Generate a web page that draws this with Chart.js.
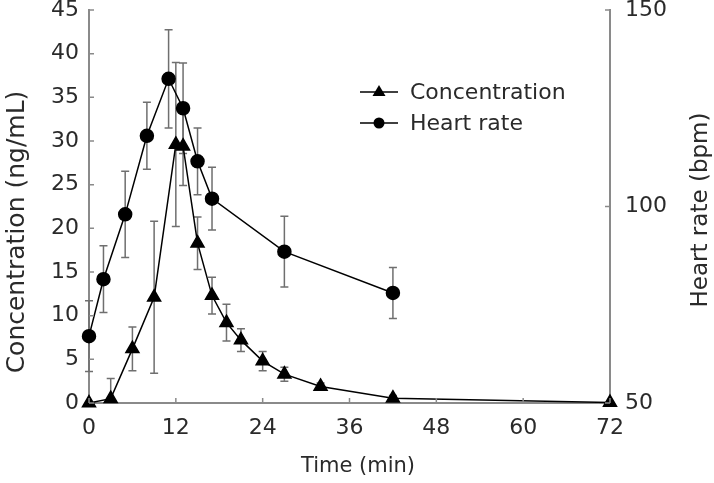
<!DOCTYPE html>
<html>
<head>
<meta charset="utf-8">
<script src="https://cdn.jsdelivr.net/npm/chart.js@4"></script>
<style>
  html, body { margin: 0; padding: 0; background: #fff; }
  canvas { display: block; }
</style>
</head>
<body>
<canvas id="chart" width="714" height="483"></canvas>
<script>
// Concentration data (triangles, left axis)
const concTime = [0, 3, 6, 9, 12, 13, 15, 17, 19, 21, 24, 27, 32, 42, 72];
const concMean = [0, 0.5, 6.2, 12.1, 29.6, 29.4, 18.3, 12.3, 9.2, 7.2, 4.8, 3.3, 1.9, 0.55, 0.05];
const concSD = [0, 2.3, 2.5, 8.7, 9.4, 4.5, 3.0, 2.1, 2.1, 1.3, 1.1, 0.8, 0.4, 0.3, 0];

// Heart rate data (circles, right axis)
const hrTime = [0, 2, 5, 8, 11, 13, 15, 17, 27, 42];
const hrMean = [67, 81.5, 98, 118, 132.5, 125, 111.5, 102, 88.5, 78];
const hrSD = [9, 8.5, 11, 8.5, 12.5, 11.5, 8.5, 8, 9, 6.5];

// Axis labels
const xTitle = 'Time (min)';
const yTitle = 'Concentration (ng/mL)';
const y1Title = 'Heart rate (bpm)';
const legendLabels = ['Concentration', 'Heart rate'];

const FONT = '"DejaVu Sans", sans-serif';
const AXIS_COLOR = '#8a8a8a';
const TEXT_COLOR = '#2a2a2a';

function toPoints(xs, ys) {
    return xs.map((x, i) => ({ x: x, y: ys[i] }));
}

// Fix the scale box so the plot area sits where the reference has it
function fixBox(size, horizontal) {
    return s => {
        if (horizontal) s.height = size; else s.width = size;
        s.paddingTop = 0;
        s.paddingBottom = 0;
        s.paddingLeft = 0;
        s.paddingRight = 0;
    };
}

// Error bars drawn behind the markers
const errorBarPlugin = {
    id: 'errorBars',
    beforeDatasetsDraw(chart) {
        const ctx = chart.ctx;
        const area = chart.chartArea;
        const xs = chart.scales.x;
        const sets = [
            { t: concTime, m: concMean, sd: concSD, scale: chart.scales.y },
            { t: hrTime, m: hrMean, sd: hrSD, scale: chart.scales.y1 }
        ];
        ctx.save();
        ctx.beginPath();
        ctx.rect(area.left - 10, area.top - 10, area.width + 20, area.height + 10);
        ctx.clip();
        ctx.strokeStyle = '#6f6f6f';
        ctx.lineWidth = 1.5;
        sets.forEach(s => {
            s.t.forEach((t, i) => {
                if (!s.sd[i]) return;
                const px = xs.getPixelForValue(t);
                const top = s.scale.getPixelForValue(s.m[i] + s.sd[i]);
                const bot = s.scale.getPixelForValue(s.m[i] - s.sd[i]);
                ctx.beginPath();
                ctx.moveTo(px, top);
                ctx.lineTo(px, bot);
                ctx.moveTo(px - 4, top);
                ctx.lineTo(px + 4, top);
                ctx.moveTo(px - 4, bot);
                ctx.lineTo(px + 4, bot);
                ctx.stroke();
            });
        });
        ctx.restore();
    }
};

// Inward tick marks, axis titles and the legend
const decorPlugin = {
    id: 'decor',
    afterDraw(chart) {
        const ctx = chart.ctx;
        const area = chart.chartArea;
        const { x, y, y1 } = chart.scales;
        ctx.save();
        ctx.strokeStyle = AXIS_COLOR;
        ctx.lineWidth = 1.5;
        ctx.beginPath();
        x.ticks.forEach(t => {
            const px = x.getPixelForValue(t.value);
            ctx.moveTo(px, area.bottom);
            ctx.lineTo(px, area.bottom - 5);
        });
        y.ticks.forEach(t => {
            const py = y.getPixelForValue(t.value);
            ctx.moveTo(area.left, py);
            ctx.lineTo(area.left + 5, py);
        });
        y1.ticks.forEach(t => {
            const py = y1.getPixelForValue(t.value);
            ctx.moveTo(area.right, py);
            ctx.lineTo(area.right - 5, py);
        });
        ctx.stroke();

        // axis titles
        ctx.fillStyle = TEXT_COLOR;
        ctx.textAlign = 'center';
        ctx.textBaseline = 'middle';
        ctx.font = '21px ' + FONT;
        ctx.fillText(xTitle, 358, 467);
        ctx.save();
        ctx.font = '25px ' + FONT;
        ctx.translate(17, 232);
        ctx.rotate(-Math.PI / 2);
        ctx.fillText(yTitle, 0, 0);
        ctx.restore();
        ctx.save();
        ctx.font = '23px ' + FONT;
        ctx.translate(701, 210);
        ctx.rotate(-Math.PI / 2);
        ctx.fillText(y1Title, 0, 0);
        ctx.restore();

        // legend
        const rows = [92, 123];
        ctx.font = '22px ' + FONT;
        ctx.textAlign = 'left';
        rows.forEach((ry, i) => {
            ctx.strokeStyle = '#000';
            ctx.lineWidth = 1.5;
            ctx.beginPath();
            ctx.moveTo(360, ry);
            ctx.lineTo(398, ry);
            ctx.stroke();
            ctx.fillStyle = '#000';
            ctx.beginPath();
            if (i === 0) {
                ctx.moveTo(379, ry - 7);
                ctx.lineTo(385.5, ry + 4);
                ctx.lineTo(372.5, ry + 4);
                ctx.closePath();
            } else {
                ctx.arc(379, ry, 5.5, 0, Math.PI * 2);
            }
            ctx.fill();
            ctx.fillStyle = TEXT_COLOR;
            ctx.fillText(legendLabels[i], 410, ry + 1);
        });
        ctx.restore();
    }
};

const tickFont = { family: FONT, size: 22 };

new Chart(document.getElementById('chart'), {
    type: 'scatter',
    data: {
        datasets: [
            {
                label: legendLabels[0],
                data: toPoints(concTime, concMean),
                yAxisID: 'y',
                showLine: true,
                borderColor: '#000',
                borderWidth: 1.5,
                backgroundColor: '#000',
                pointStyle: 'triangle',
                pointRadius: 7.5,
                clip: false
            },
            {
                label: legendLabels[1],
                data: toPoints(hrTime, hrMean),
                yAxisID: 'y1',
                showLine: true,
                borderColor: '#000',
                borderWidth: 1.5,
                backgroundColor: '#000',
                pointStyle: 'circle',
                pointRadius: 6.5,
                clip: false
            }
        ]
    },
    options: {
        responsive: false,
        animation: false,
        layout: { padding: { top: 10, left: 0, right: 0, bottom: 0 } },
        plugins: {
            legend: { display: false },
            tooltip: { enabled: false }
        },
        scales: {
            x: {
                type: 'linear',
                min: 0,
                max: 72,
                afterFit: fixBox(80, true),
                ticks: { stepSize: 12, color: TEXT_COLOR, font: tickFont, padding: 12, maxRotation: 0 },
                grid: { drawOnChartArea: false, drawTicks: false },
                border: { color: AXIS_COLOR, width: 2 }
            },
            y: {
                position: 'left',
                min: 0,
                max: 45,
                afterFit: fixBox(89, false),
                ticks: { stepSize: 5, color: TEXT_COLOR, font: tickFont, padding: 10 },
                grid: { drawOnChartArea: false, drawTicks: false },
                border: { color: AXIS_COLOR, width: 2 }
            },
            y1: {
                position: 'right',
                min: 50,
                max: 150,
                afterFit: fixBox(104, false),
                ticks: { stepSize: 50, color: TEXT_COLOR, font: tickFont, padding: 15 },
                grid: { drawOnChartArea: false, drawTicks: false },
                border: { color: AXIS_COLOR, width: 2 }
            }
        }
    },
    plugins: [errorBarPlugin, decorPlugin]
});
</script>
</body>
</html>
